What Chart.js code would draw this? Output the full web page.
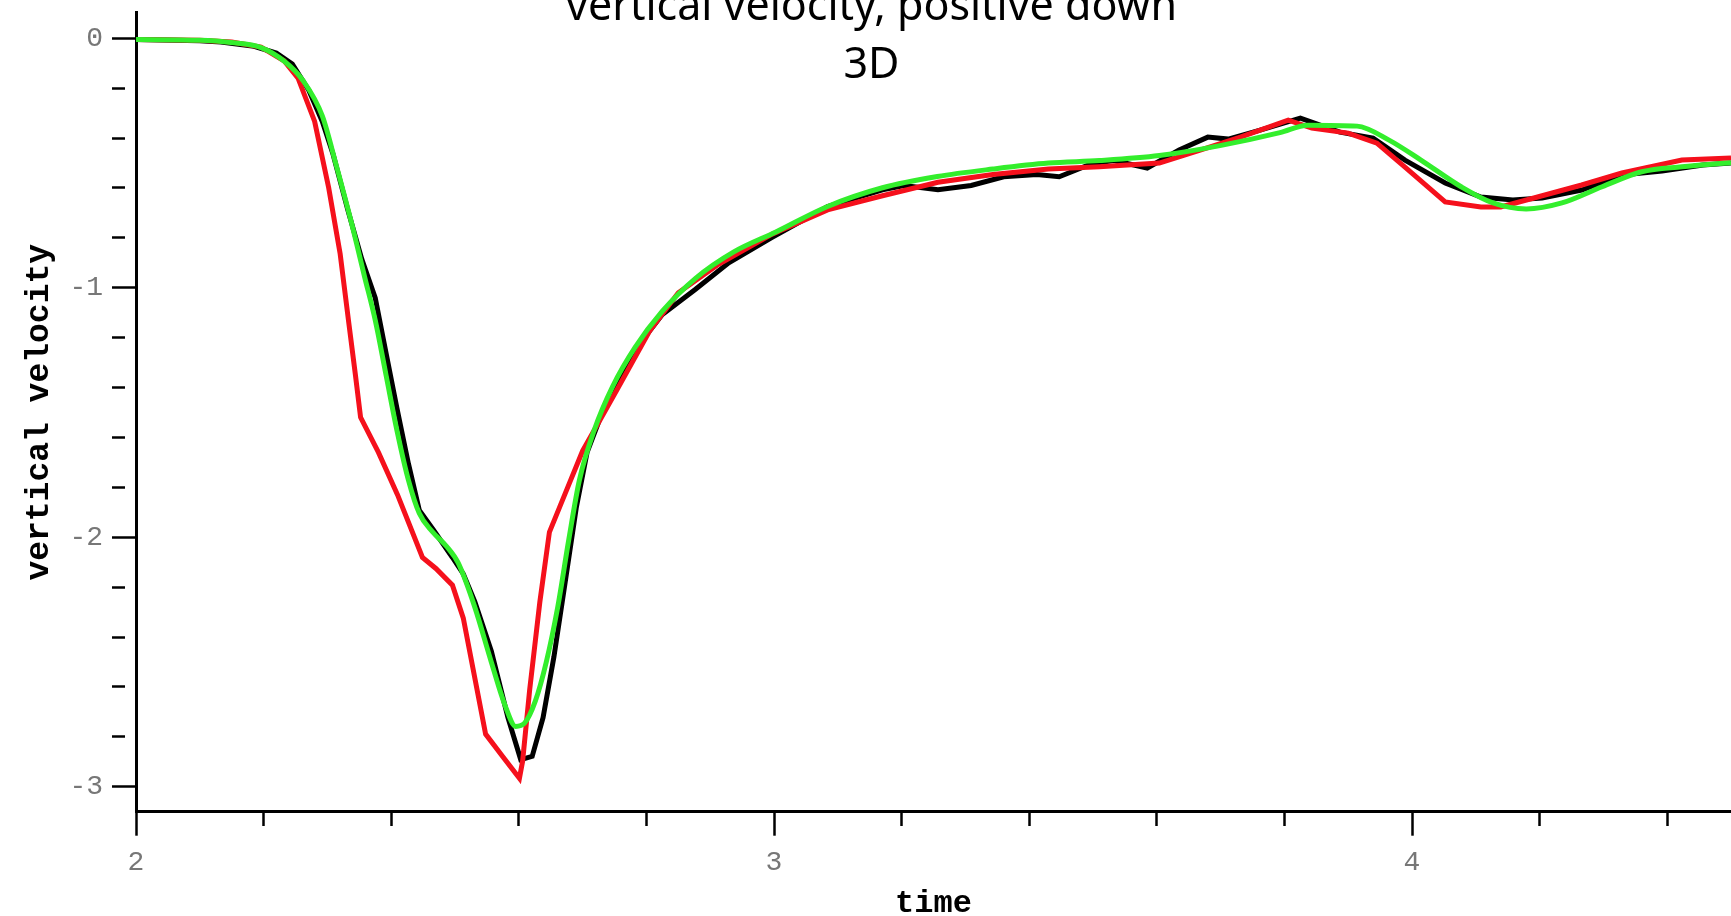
<!DOCTYPE html>
<html>
<head>
<meta charset="utf-8">
<script src="https://cdn.jsdelivr.net/npm/chart.js@4.4.0/dist/chart.umd.min.js"></script>
<style>
  body { margin: 0; background: #fff; }
  canvas { display: block; }
</style>
</head>
<body>
<canvas id="chart" width="1731" height="916"></canvas>
<script>
// values
const timeBlack = [2.0, 2.1, 2.133, 2.185, 2.22, 2.245, 2.271, 2.292, 2.309, 2.332, 2.354, 2.375, 2.392, 2.409, 2.427, 2.444, 2.466, 2.496, 2.513, 2.531, 2.557, 2.583, 2.603, 2.621, 2.638, 2.655, 2.672, 2.69, 2.707, 2.73, 2.756, 2.791, 2.825, 2.877, 2.929, 2.997, 3.084, 3.17, 3.204, 3.257, 3.309, 3.36, 3.412, 3.447, 3.499, 3.533, 3.585, 3.635, 3.68, 3.712, 3.762, 3.825, 3.887, 3.939, 3.989, 4.052, 4.108, 4.158, 4.204, 4.266, 4.329, 4.392, 4.456, 4.5];
const velBlack = [-0.005, -0.01, -0.015, -0.032, -0.059, -0.103, -0.209, -0.333, -0.466, -0.688, -0.886, -1.041, -1.262, -1.483, -1.705, -1.891, -1.97, -2.081, -2.147, -2.258, -2.457, -2.723, -2.891, -2.878, -2.723, -2.48, -2.192, -1.883, -1.66, -1.505, -1.373, -1.219, -1.107, -1.006, -0.9, -0.798, -0.674, -0.607, -0.59, -0.607, -0.59, -0.555, -0.546, -0.555, -0.502, -0.49, -0.52, -0.448, -0.396, -0.404, -0.368, -0.32, -0.376, -0.4, -0.488, -0.58, -0.636, -0.648, -0.64, -0.608, -0.548, -0.532, -0.508, -0.5];

const timeRed = [2.0, 2.1, 2.15, 2.196, 2.232, 2.254, 2.28, 2.302, 2.32, 2.333, 2.344, 2.352, 2.38, 2.41, 2.449, 2.47, 2.496, 2.513, 2.548, 2.575, 2.601, 2.606, 2.617, 2.633, 2.648, 2.664, 2.68, 2.7, 2.722, 2.753, 2.805, 2.85, 2.911, 2.997, 3.084, 3.17, 3.257, 3.343, 3.43, 3.51, 3.604, 3.668, 3.731, 3.806, 3.843, 3.9, 3.945, 3.989, 4.052, 4.108, 4.139, 4.191, 4.266, 4.329, 4.423, 4.5];
const velRed = [-0.005, -0.008, -0.015, -0.035, -0.09, -0.16, -0.333, -0.599, -0.864, -1.13, -1.351, -1.519, -1.66, -1.83, -2.081, -2.125, -2.192, -2.324, -2.789, -2.88, -2.966, -2.897, -2.612, -2.259, -1.979, -1.879, -1.779, -1.654, -1.554, -1.413, -1.173, -1.02, -0.909, -0.785, -0.688, -0.631, -0.577, -0.546, -0.524, -0.515, -0.5, -0.448, -0.396, -0.328, -0.36, -0.38, -0.42, -0.516, -0.656, -0.676, -0.676, -0.64, -0.588, -0.54, -0.488, -0.48];

const timeGreen = [2.0, 2.1, 2.149, 2.196, 2.232, 2.262, 2.292, 2.314, 2.337, 2.358, 2.375, 2.392, 2.409, 2.427, 2.444, 2.465, 2.487, 2.505, 2.531, 2.557, 2.579, 2.595, 2.609, 2.626, 2.643, 2.661, 2.678, 2.695, 2.718, 2.747, 2.782, 2.825, 2.877, 2.937, 3.003, 3.084, 3.17, 3.256, 3.343, 3.43, 3.51, 3.604, 3.699, 3.793, 3.837, 3.914, 3.964, 4.014, 4.077, 4.127, 4.179, 4.235, 4.298, 4.36, 4.423, 4.5];
const velGreen = [-0.005, -0.008, -0.017, -0.037, -0.091, -0.17, -0.311, -0.51, -0.732, -0.953, -1.13, -1.351, -1.572, -1.771, -1.904, -1.979, -2.037, -2.103, -2.28, -2.501, -2.678, -2.758, -2.745, -2.656, -2.501, -2.28, -2.015, -1.771, -1.572, -1.396, -1.24, -1.094, -0.962, -0.856, -0.776, -0.674, -0.599, -0.554, -0.524, -0.5, -0.49, -0.47, -0.43, -0.378, -0.348, -0.352, -0.408, -0.488, -0.595, -0.66, -0.684, -0.66, -0.595, -0.535, -0.515, -0.499];

const timeLabels = [2, 3, 4];
const velLabels = [0, -1, -2, -3];

const toPoints = (xs, ys) => xs.map((x, i) => ({ x: x, y: ys[i] }));
const isLabelled = (v, list) => list.some((n) => Math.abs(v - n) < 1e-6);

const tickFont = { family: 'Liberation Mono', size: 28 };

const ctx = document.getElementById('chart').getContext('2d');
new Chart(ctx, {
  type: 'line',
  data: {
    datasets: [
      {
        label: 'green',
        data: toPoints(timeGreen, velGreen),
        borderColor: '#33ee2c',
        borderWidth: 5,
        pointRadius: 0,
        cubicInterpolationMode: 'monotone',
        order: 0,
      },
      {
        label: 'red',
        data: toPoints(timeRed, velRed),
        borderColor: '#f5101c',
        borderWidth: 5,
        pointRadius: 0,
        tension: 0,
        order: 1,
      },
      {
        label: 'black',
        data: toPoints(timeBlack, velBlack),
        borderColor: '#000000',
        borderWidth: 5,
        pointRadius: 0,
        tension: 0,
        order: 2,
      },
    ],
  },
  options: {
    responsive: false,
    animation: false,
    devicePixelRatio: 1,
    layout: {
      padding: { left: 12, right: 0, top: 0, bottom: 0 },
    },
    plugins: {
      legend: { display: false },
      tooltip: { enabled: false },
      title: {
        display: true,
        text: ['vertical velocity, positive down', '3D'],
        color: '#000',
        font: { family: 'Noto Sans', size: 43, weight: 'normal', lineHeight: 1.349 },
        padding: { top: -21, bottom: -82.15 },
      },
    },
    scales: {
      x: {
        type: 'linear',
        min: 2,
        max: 4.5,
        border: { display: true, color: '#000', width: 3 },
        grid: {
          drawOnChartArea: false,
          tickLength: 24,
          tickWidth: 2.5,
          tickColor: '#000',
          tickBorderDash: (c) => (c.tick && !isLabelled(c.tick.value, timeLabels) ? [13, 100] : []),
        },
        ticks: {
          stepSize: 0.2,
          includeBounds: false,
          autoSkip: false,
          maxRotation: 0,
          padding: 10,
          color: '#777',
          font: tickFont,
          callback: (v) => (isLabelled(v, timeLabels) ? String(Math.round(v)) : ''),
        },
        title: {
          display: true,
          text: 'time',
          color: '#000',
          font: { family: 'Liberation Mono', size: 32, weight: 'bold', lineHeight: 1.2 },
          padding: { top: 0, bottom: -7 },
        },
        afterFit: (scale) => {
          scale.height = 104.3;
          scale.paddingLeft = 0;
          scale.paddingRight = 0;
        },
      },
      y: {
        type: 'linear',
        min: -3.1,
        max: 0.102,
        border: { display: true, color: '#000', width: 3 },
        grid: {
          drawOnChartArea: false,
          tickLength: 24,
          tickWidth: 2.5,
          tickColor: '#000',
          tickBorderDash: (c) => (c.tick && !isLabelled(c.tick.value, velLabels) ? [13, 100] : []),
        },
        ticks: {
          stepSize: 0.2,
          includeBounds: false,
          autoSkip: false,
          padding: 9,
          color: '#777',
          font: tickFont,
          callback: (v) => (isLabelled(v, velLabels) ? String(Math.round(v)) : ''),
        },
        title: {
          display: true,
          text: 'vertical velocity',
          color: '#000',
          font: { family: 'Liberation Mono', size: 33, weight: 'bold', lineHeight: 1.2 },
          padding: { top: 8, bottom: 0 },
        },
        afterFit: (scale) => {
          scale.width = 124;
          scale.paddingTop = 0;
          scale.paddingBottom = 0;
        },
      },
    },
  },
});
</script>
</body>
</html>
